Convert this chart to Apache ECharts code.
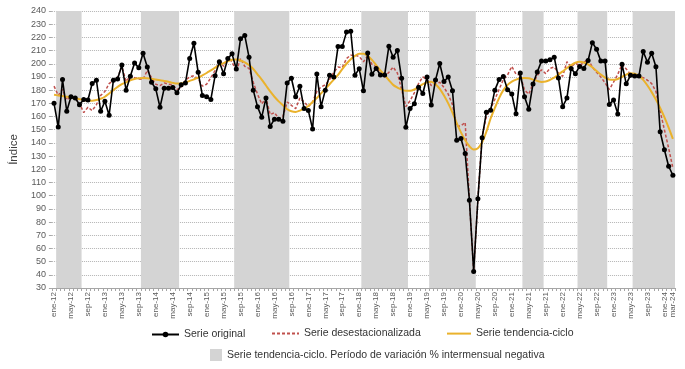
<!DOCTYPE html>
<html>
<head>
<meta charset="utf-8">
<script src="https://cdn.jsdelivr.net/npm/echarts@6/dist/echarts.min.js"></script>
<style>
html,body{margin:0;padding:0;background:#fff;}
#chart{width:685px;height:369px;}
</style>
</head>
<body>
<div id="chart"></div>
<script>
// ---- categories (monthly, ene-12 .. mar-24)
var monthNames = ['ene','feb','mar','abr','may','jun','jul','ago','sep','oct','nov','dic'];
var years = ['12','13','14','15','16','17','18','19','20','21','22','23','24'];
var categories = [];
years.forEach(function (y) {
  monthNames.forEach(function (m, k) {
    if (y === '24' && k > 2) return;
    categories.push(m + '-' + y);
  });
});

// ---- Serie original
var serieOriginal = [
  170,152,188,164,175,174,169,173,172.5,185,187.5,164,
  171.5,161,187.5,188.5,199,180,190.5,200.5,197,208,197.5,186,
  181,167,181.5,181.5,182,178,184,185.5,204,215.5,193.5,176,
  175,173,191,201.5,192.5,204,207.5,196,219,221.5,205,180,
  167.5,159.5,174,152.5,158,158,156.5,185.5,189,175,183,166,
  164.5,150.5,192.3,167.5,180,191.3,190,213,213,224,224.6,191.3,
  196.3,179.5,208.2,192,196.5,191.5,191.5,213.3,205,210,189,151.8,
  166,169.7,182.2,177.5,190,168.7,187.6,200.2,186.6,190,179.5,142,
  143.4,132,96.6,42.5,97.6,144,163.3,164.8,180,188,190.3,180.3,
  177,162.1,193,175,165.5,184.7,193.8,202,202,203,205,189.3,
  167.5,174,196.5,192.5,198,196.5,202.5,216,211,202,202,169.2,
  172.6,162,199.7,184.8,191.2,190.8,190.8,209.3,201.2,208,197.7,148.4,
  134.8,122.3,115.5
];

// ---- Serie desestacionalizada
var serieDesest = [
  183,176,180.5,172.5,175.5,174,170,163,167,164.5,169,176,
  179,185,187.5,189.5,198,186.5,191,189.5,188.5,188,195,189.5,
  184.5,183.5,185.5,184.5,184,180.5,182,187.5,190,191,188.5,183,
  184.5,189.5,195,203,198,205,201.5,194,204,198,196.5,186,
  177,169.5,174,161.5,163,158.5,160,171,168.5,166,174,171,
  167.5,171,179,182.5,184,188,193.5,197.5,197,204,206.5,206.5,
  205.5,201.5,206,199.5,198,193,190,193.5,197.5,193,180.5,167.5,
  172,178,185,190,188,183.5,184.5,186,182,177,169,152.5,
  153,155.5,96.5,43,97.5,145,160,166,173,180.5,188,191.5,
  198,192,191.5,180,177,185,191,195.5,192.5,196.5,197.5,193,
  190.5,201.5,197.5,200.5,198.5,201,203.5,197.5,193.5,190,185.5,180.5,
  186,192,199.5,196,192,191.5,190.5,189.5,187.5,185,179,164,
  150,136,121
];

// ---- Serie tendencia-ciclo
var serieTendencia = [
  176.5,176,175.5,175,174.5,174,173.2,172.5,172,172,172.5,173.5,
  175,177.5,180,182.5,184.5,186,187.5,188.5,189,189.2,189,188.6,
  188,187.5,187,186.3,185.5,185,185,185.8,187,188.2,189.5,191.2,
  193,195,197,199,200.5,202,203,203.2,202.5,201,199,196,
  192,188,183.5,179,175,171.5,168.5,165.5,164,163.5,164.5,166,
  168,171,174,177.5,181,184.5,188,191.5,196,200,203.5,206,
  207.5,207.5,206,203,199,195,191.5,187.5,184,182,180.5,179.5,
  179.5,180.5,182.5,184.5,186,186.3,184.5,181,176,170,163,155,
  148,142,137.5,135,136,140.5,148.5,158.5,166.5,174,180,184,
  186.5,188,189,189.3,189,188,187,186.2,186.5,187.8,189.5,191.8,
  194.2,196.8,199,200.8,201.5,201,199.5,197.3,194.5,191.8,189.5,188,
  187.8,188.5,190,191.8,192.8,192.5,190.8,187.8,183.5,178.5,172.8,166.5,
  159.5,151.5,143
];

// ---- periods with negative month-on-month variation of trend-cycle
// [first category index, last category index]
var negativePeriods = [[1,6],[21,29],[43,55],[73,83],[89,99],[111,115],[124,130],[137,146]];
var bandTop = 240;
var bandBottom = 30;

var nameOriginal = 'Serie original';
var nameDesest = 'Serie desestacionalizada';
var nameTend = 'Serie tendencia-ciclo';
var nameBand = 'Serie tendencia-ciclo. Período de variación % intermensual negativa';

var chart = echarts.init(document.getElementById('chart'), null, {renderer: 'canvas'});
var legendText = {color: '#333', fontSize: 10.5, fontFamily: 'Liberation Sans, Arial, sans-serif'};
chart.setOption({
  animation: false,
  backgroundColor: '#fff',
  textStyle: {fontFamily: 'Liberation Sans, Arial, sans-serif'},
  grid: {left: 49, right: 10, top: 11, bottom: 81, containLabel: false},
  legend: [
    {data: [nameOriginal], left: 146, top: 324, itemWidth: 27, itemHeight: 7, textStyle: legendText, selectedMode: false},
    {data: [{name: nameDesest, itemStyle: {opacity: 0}}], left: 266, top: 323, itemWidth: 27, itemHeight: 14, textStyle: legendText, selectedMode: false},
    {data: [{name: nameTend, itemStyle: {opacity: 0}}], left: 441, top: 323, itemWidth: 24, itemHeight: 14, textStyle: legendText, selectedMode: false},
    {data: [{name: nameBand, icon: 'rect'}], left: 205, top: 344, itemWidth: 12, itemHeight: 12, textStyle: legendText, selectedMode: false}
  ],
  xAxis: {
    type: 'category',
    data: categories,
    boundaryGap: true,
    axisLine: {show: true, lineStyle: {color: '#a6a6a6', width: 1}},
    axisTick: {show: true, interval: 0, length: 3, lineStyle: {color: '#a6a6a6'}},
    axisLabel: {
      rotate: 90,
      fontSize: 8,
      color: '#595959',
      margin: 4,
      interval: function (idx) { return idx % 4 === 0 || idx === categories.length - 1; }
    },
    splitLine: {show: false}
  },
  yAxis: {
    type: 'value',
    min: 30,
    max: 240,
    interval: 10,
    name: 'Índice',
    nameLocation: 'middle',
    nameGap: 27,
    nameTextStyle: {fontSize: 11.5, color: '#404040'},
    axisLine: {show: false},
    axisTick: {show: true, length: 3, lineStyle: {color: '#a6a6a6'}},
    axisLabel: {fontSize: 9, color: '#595959', margin: 6},
    splitLine: {show: true, lineStyle: {color: '#b4b4b4', type: [1, 1], width: 1}}
  },
  series: [
    {
      name: nameBand,
      type: 'custom',
      data: negativePeriods.map(function (p) { return [p[0], p[1], bandTop, bandBottom]; }),
      encode: {x: [0, 1], y: [2, 3]},
      itemStyle: {color: '#d4d4d4'},
      silent: true,
      clip: true,
      z: 1,
      renderItem: function (params, api) {
        var a = api.coord([api.value(0), api.value(2)]);
        var b = api.coord([api.value(1), api.value(3)]);
        var w = api.size([1, 0])[0];
        return {
          type: 'rect',
          shape: {x: a[0] - w / 2, y: a[1], width: b[0] - a[0] + w, height: b[1] - a[1]},
          style: {fill: '#d4d4d4'}
        };
      }
    },
    {
      name: nameDesest,
      type: 'line',
      data: serieDesest,
      symbol: 'none',
      lineStyle: {color: '#c0504d', width: 1.5, type: [3, 2]},
      itemStyle: {color: '#c0504d'},
      z: 3
    },
    {
      name: nameTend,
      type: 'line',
      data: serieTendencia,
      symbol: 'none',
      smooth: 0.3,
      lineStyle: {color: '#eab22c', width: 2},
      itemStyle: {color: '#eab22c'},
      z: 4
    },
    {
      name: nameOriginal,
      type: 'line',
      data: serieOriginal,
      symbol: 'circle',
      symbolSize: 5,
      showSymbol: true,
      showAllSymbol: true,
      lineStyle: {color: '#000', width: 1.6},
      itemStyle: {color: '#000'},
      z: 5
    }
  ]
});
</script>
</body>
</html>
